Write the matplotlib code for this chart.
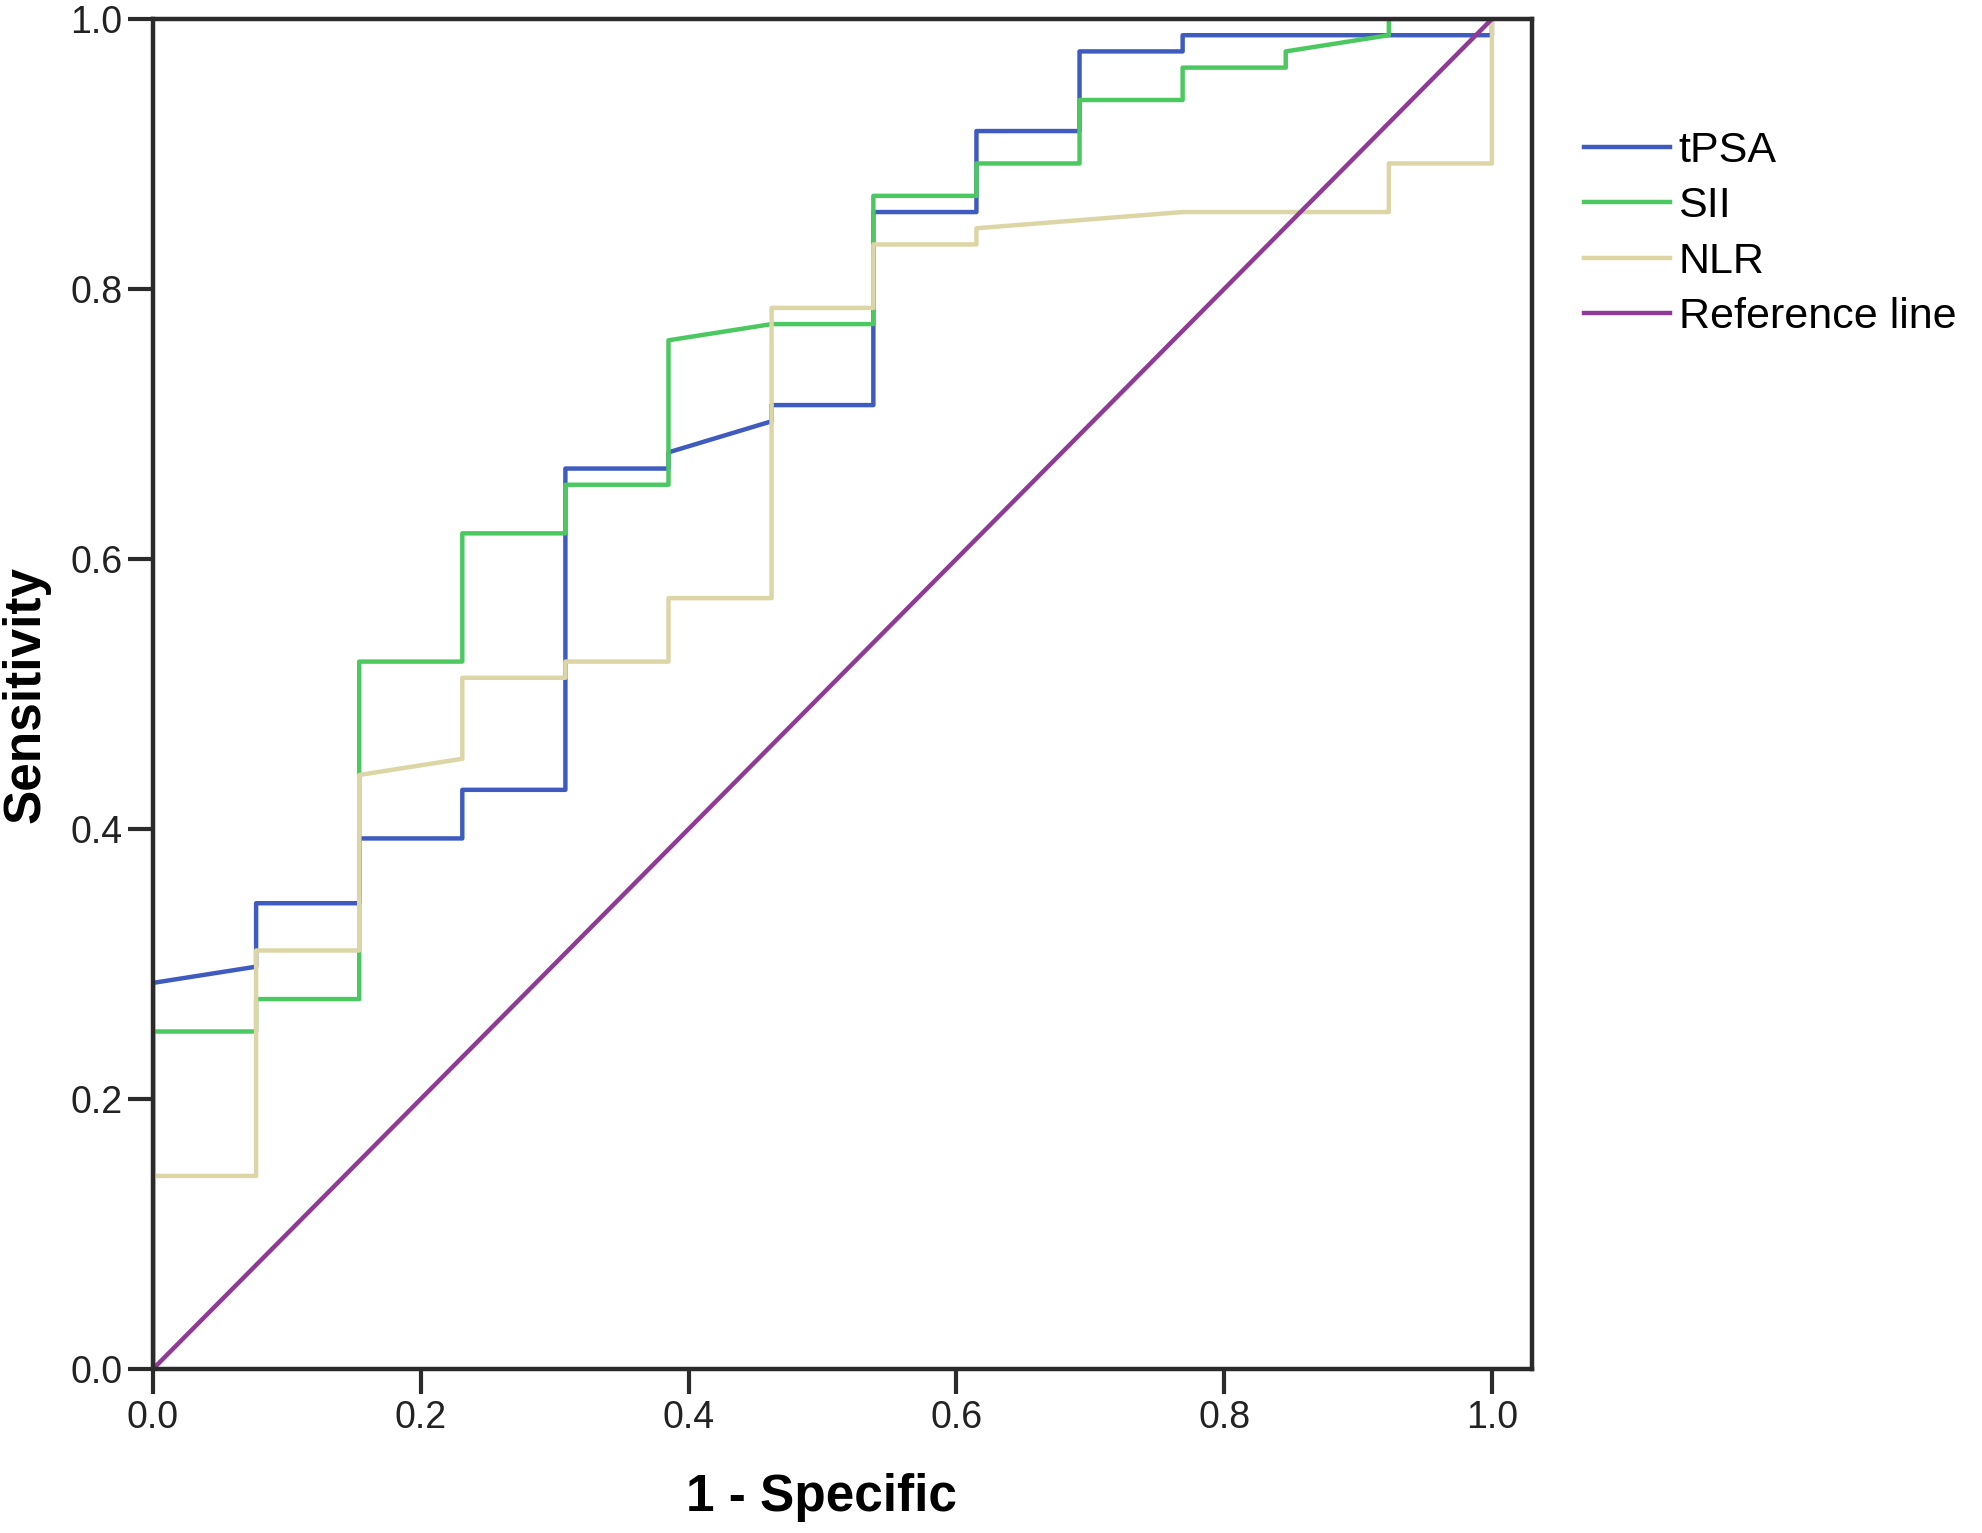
import matplotlib.pyplot as plt

plt.rcParams['font.family'] = ['Liberation Sans', 'DejaVu Sans']

# ROC points (1 - specificity, sensitivity)
tpsa_fpr = [0, 0, 0.077, 0.077, 0.154, 0.154, 0.231, 0.231, 0.308, 0.308, 0.385, 0.385,
            0.462, 0.462, 0.538, 0.538, 0.615, 0.615, 0.692, 0.692, 0.769, 0.769, 1.0, 1.0]
tpsa_tpr = [0, 0.286, 0.298, 0.345, 0.345, 0.393, 0.393, 0.429, 0.429, 0.667, 0.667, 0.679,
            0.702, 0.714, 0.714, 0.857, 0.857, 0.917, 0.917, 0.976, 0.976, 0.988, 0.988, 1.0]

sii_fpr = [0, 0, 0.077, 0.077, 0.154, 0.154, 0.231, 0.231, 0.308, 0.308, 0.385, 0.385,
           0.462, 0.538, 0.538, 0.615, 0.615, 0.692, 0.692, 0.769, 0.769, 0.846, 0.846,
           0.923, 0.923, 1.0]
sii_tpr = [0, 0.250, 0.250, 0.274, 0.274, 0.524, 0.524, 0.619, 0.619, 0.655, 0.655, 0.762,
           0.774, 0.774, 0.869, 0.869, 0.893, 0.893, 0.940, 0.940, 0.964, 0.964, 0.976,
           0.988, 1.0, 1.0]

nlr_fpr = [0, 0, 0.077, 0.077, 0.154, 0.154, 0.231, 0.231, 0.308, 0.308, 0.385, 0.385,
           0.462, 0.462, 0.538, 0.538, 0.615, 0.615, 0.769, 0.923, 0.923, 1.0, 1.0]
nlr_tpr = [0, 0.143, 0.143, 0.310, 0.310, 0.440, 0.452, 0.512, 0.512, 0.524, 0.524, 0.571,
           0.571, 0.786, 0.786, 0.833, 0.833, 0.845, 0.857, 0.857, 0.893, 0.893, 1.0]

ref_x = [0, 1]
ref_y = [0, 1]

fig = plt.figure(figsize=(19.82, 15.33), dpi=100)
ax = fig.add_axes([0.0772, 0.107, 0.6958, 0.8806])

ax.plot(tpsa_fpr, tpsa_tpr, color='#3f5bbf', lw=3.2, label='tPSA')
ax.plot(sii_fpr, sii_tpr, color='#4cc860', lw=3.2, label='SII')
ax.plot(nlr_fpr, nlr_tpr, color='#dcd5a5', lw=3.2, label='NLR')
ax.plot(ref_x, ref_y, color='#8f3a95', lw=3.2, label='Reference line')

ax.set_xlim(0, 1.03)
ax.set_ylim(0, 1.0)
ax.set_xticks([0, 0.2, 0.4, 0.6, 0.8, 1.0])
ax.set_yticks([0, 0.2, 0.4, 0.6, 0.8, 1.0])
ax.set_xticklabels(['0.0', '0.2', '0.4', '0.6', '0.8', '1.0'])
ax.set_yticklabels(['0.0', '0.2', '0.4', '0.6', '0.8', '1.0'])

for s in ax.spines.values():
    s.set_color('#2b2b2b')
    s.set_linewidth(3.2)
ax.tick_params(axis='both', direction='out', length=18, width=3, color='#2b2b2b',
               labelsize=27, labelcolor='#222222', pad=4)

ax.set_xlabel('1 - Specific', fontsize=37, fontweight='bold')
ax.set_ylabel('Sensitivity', fontsize=37, fontweight='bold')
ax.xaxis.set_label_coords(0.485, -0.077)
ax.yaxis.set_label_coords(-0.074, 0.5)

ax.legend(loc='upper left', bbox_to_anchor=(1.025, 0.93), frameon=False, fontsize=31,
          handlelength=2.0, handletextpad=0.2, labelspacing=0.36, borderaxespad=0)

fig.savefig('out.png', dpi=100)
